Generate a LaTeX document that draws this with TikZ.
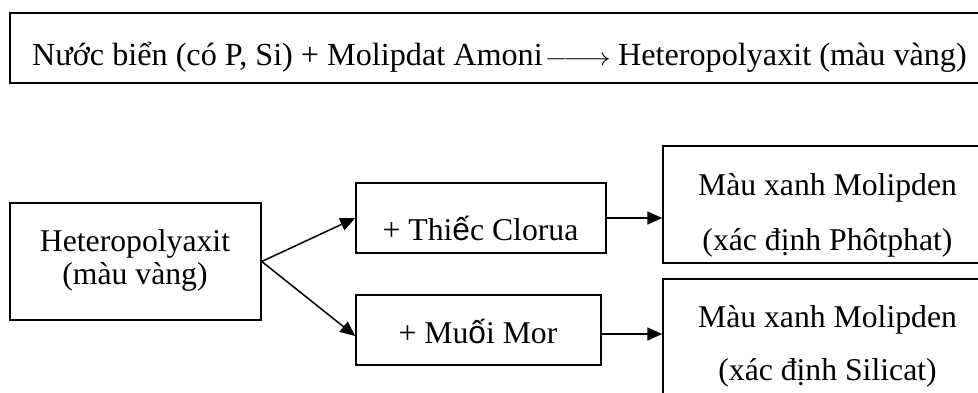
\documentclass[tikz,border=0pt]{standalone}
\usepackage{fontspec}
\setmainfont{Liberation Serif}
\newfontfamily\arialf{Liberation Sans}
\usetikzlibrary{arrows.meta}
\begin{document}
\begin{tikzpicture}[x=1pt,y=-1pt,
  box/.style={draw, line width=1.5pt, inner sep=0pt},
  txt/.style={font=\fontsize{31.7}{33}\selectfont, align=center, inner sep=0pt},
  conn/.style={line width=1.5pt, -{Triangle[length=15pt,width=13pt]}}]
\useasboundingbox (0,0) rectangle (978,392);
\clip (0,0) rectangle (978,392);
% boxes
\node[box, minimum width=990pt, minimum height=70pt] (top) at (505,48) {};
\node[box, minimum width=251pt, minimum height=117pt] (hetero) at (135.5,261.5) {};
\node[box, minimum width=250pt, minimum height=70pt] (thiec) at (481,218) {};
\node[box, minimum width=245pt, minimum height=70pt] (muoi) at (478.5,330) {};
\node[box, minimum width=330pt, minimum height=117pt] (phot) at (828,204.5) {};
\node[box, minimum width=330pt, minimum height=130pt] (sil) at (828,344) {};
% texts
\node[txt, anchor=base, font=\fontsize{32.2}{33}\selectfont] (toptext) at (499.5,65)
  {Nước biển (có P, Si) + Molipdat Amoni\hspace{2pt}\scalebox{1.2}[1]{$\relbar\joinrel\longrightarrow$}\hspace{7pt}Heteropolyaxit (màu vàng)};
\node[txt, anchor=north] (heterotext) at (135,229) {Heteropolyaxit\\(màu vàng)};
\node[txt, anchor=base] (thiectext) at (480.5,240) {+ Thi{\arialf ế}c Clorua};
\node[txt, anchor=base] (muoitext) at (478,343) {+ Mu{\arialf ố}i Mor};
\node[txt, anchor=north, font=\fontsize{31.7}{54.5}\selectfont] (phottext) at (827.5,173.3) {Màu xanh Molipden\\(xác định Phôtphat)};
\node[txt, anchor=north, font=\fontsize{31.7}{53.5}\selectfont] (siltext) at (827.5,305) {Màu xanh Molipden\\(xác định Silicat)};
% connectors
\draw[conn] (hetero.east) -- (thiec.west);
\draw[conn] (hetero.east) -- ([yshift=-6pt]muoi.west);
\draw[conn] (thiec.east) -- (thiec.east -| phot.west);
\draw[conn] ([yshift=-4pt]muoi.east) -- ([yshift=-4pt]muoi.east -| sil.west);
\end{tikzpicture}
\end{document}
